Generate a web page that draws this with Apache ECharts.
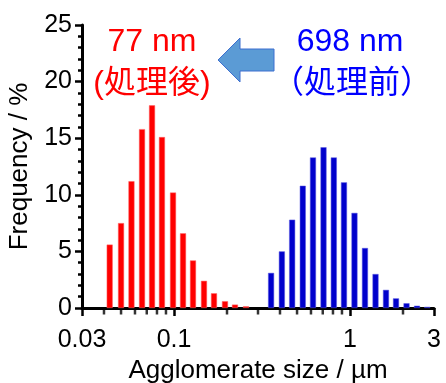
<!DOCTYPE html>
<html><head><meta charset="utf-8">
<script src="https://cdn.jsdelivr.net/npm/echarts@6/dist/echarts.min.js"></script>
<style>html,body{margin:0;padding:0;background:#fff}#c{width:446px;height:383px}</style>
</head><body><div id="c"></div>
<script>
// Treated (after) distribution: size (µm) and frequency (%)
var redSizes = [0.0431, 0.0500, 0.0573, 0.0658, 0.0750, 0.0854, 0.0987, 0.1125, 0.1282, 0.1480, 0.1687, 0.1948, 0.2220, 0.2564];
var redFreq  = [5.6, 7.5, 11.2, 15.8, 17.9, 15.1, 10.2, 6.6, 4.2, 2.4, 1.3, 0.6, 0.3, 0.15];
// Untreated (before) distribution
var blueSizes = [0.356, 0.410, 0.469, 0.539, 0.616, 0.707, 0.809, 0.924, 1.060, 1.216, 1.396, 1.601, 1.825, 2.094, 2.402, 2.748];
var blueFreq  = [3.1, 5.0, 7.8, 10.8, 13.3, 14.2, 13.3, 11.1, 8.4, 5.3, 3.0, 1.6, 0.85, 0.42, 0.2, 0.1];
// Minor tick positions on log x axis
var minorX = [0.04, 0.05, 0.06, 0.07, 0.08, 0.09, 0.2, 0.3, 0.4, 0.5, 0.6, 0.7, 0.8, 0.9, 2];
var xLabels = ['0.03', '0.1', '1', '3'];
var labelRed1 = '77 nm', labelRed2 = '(処理後)';
var labelBlue1 = '698 nm', labelBlue2 = '（処理前）';
var xName = 'Agglomerate size / µm', yName = 'Frequency / %';

function pairs(xs, ys){ return xs.map(function(x,i){ return [x, ys[i]]; }); }
var FONT = '"Liberation Sans", Arial, "Noto Sans CJK JP", sans-serif';
var chart = echarts.init(document.getElementById('c'), null, {renderer:'canvas'});
chart.setOption({
  animation: false,
  grid: {left: 82, right: 12, top: 25, bottom: 75, containLabel: false, outerBoundsMode: 'none'},
  xAxis: {
    type: 'log', logBase: 10, min: 0.03, max: 3,
    name: xName, nameLocation: 'middle', nameGap: 49,
    nameTextStyle: {fontFamily: FONT, fontSize: 26, color: '#000'},
    axisLine: {lineStyle: {color: '#000', width: 3}},
    axisTick: {show: true, length: 8, lineStyle: {color: '#000', width: 2.5}},
    axisLabel: {fontFamily: FONT, fontSize: 25, color: '#000', margin: 20, showMinLabel: true, showMaxLabel: true,
      formatter: function(v){ var s = String(+v.toPrecision(3)); return xLabels.indexOf(s) >= 0 ? s : ''; }},
    splitLine: {show: false}, minorTick: {show: false}, minorSplitLine: {show: false}
  },
  yAxis: {
    type: 'value', min: 0, max: 25, interval: 5,
    name: yName, nameLocation: 'middle', nameGap: 41,
    nameTextStyle: {fontFamily: FONT, fontSize: 26, color: '#000'},
    axisLine: {show: true, lineStyle: {color: '#000', width: 3}},
    axisTick: {show: true, length: 7, lineStyle: {color: '#000', width: 2.5}},
    minorTick: {show: true, splitNumber: 5, length: 4, lineStyle: {color: '#000', width: 2.5}},
    axisLabel: {fontFamily: FONT, fontSize: 25, color: '#000', margin: 10},
    splitLine: {show: false}
  },
  series: [
    {type: 'bar', data: pairs(redSizes, redFreq), barWidth: 6, barGap: '-100%',
     itemStyle: {color: '#ff0000', borderColor: '#ff6060', borderWidth: 0.5}},
    {type: 'bar', data: pairs(blueSizes, blueFreq), barWidth: 6, barGap: '-100%',
     itemStyle: {color: '#0000cc', borderColor: '#5a5ae0', borderWidth: 0.5}},
    {type: 'scatter', data: minorX.map(function(x){ return [x, 0]; }), symbol: 'rect', symbolSize: [2.5, 5],
     symbolOffset: [0, 4], clip: false, silent: true, itemStyle: {color: '#000'}, z: 5}
  ],
  graphic: [
    {type: 'text', x: 152, y: 42, style: {text: labelRed1, fill: '#ff0000', font: '32px ' + FONT, align: 'center', verticalAlign: 'middle'}},
    {type: 'text', x: 152, y: 84, style: {text: labelRed2, fill: '#ff0000', font: '32px ' + FONT, align: 'center', verticalAlign: 'middle'}},
    {type: 'text', x: 350, y: 42, style: {text: labelBlue1, fill: '#0000ff', font: '32px ' + FONT, align: 'center', verticalAlign: 'middle'}},
    {type: 'text', x: 352, y: 84, style: {text: labelBlue2, fill: '#0000ff', font: '32px ' + FONT, align: 'center', verticalAlign: 'middle'}},
    {type: 'polygon', shape: {points: [[218,60],[240,38],[240,49],[274,49],[274,71],[240,71],[240,82]]},
     style: {fill: '#5b9bd5', stroke: '#3d6fd0', lineWidth: 1}}
  ]
});
</script></body></html>
